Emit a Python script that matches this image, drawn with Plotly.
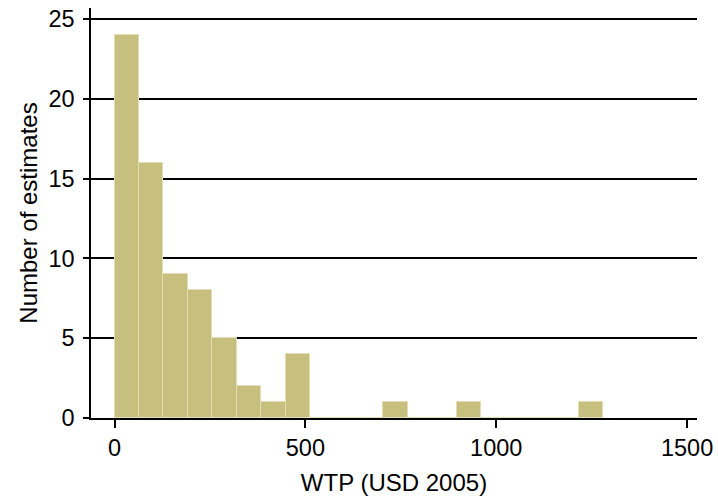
import plotly.graph_objects as go

# Histogram data (bin width 64 USD, bins starting at 0)
bin_width = 64
bin_starts = [i * 64 for i in range(20)]
counts = [24, 16, 9, 8, 5, 2, 1, 4, 0, 0, 0, 1, 0, 0, 1, 0, 0, 0, 0, 1]

x_ticks = [0, 500, 1000, 1500]
y_ticks = [0, 5, 10, 15, 20, 25]

font_family = "Liberation Sans, Arial, Helvetica, sans-serif"

fig = go.Figure()
fig.add_trace(go.Bar(
    x=bin_starts,
    y=counts,
    width=[bin_width] * len(bin_starts),
    offset=0,
    marker=dict(color="#C6BF7E", line=dict(color="#E2DDB4", width=1)),
    showlegend=False,
    hoverinfo="skip",
))

fig.update_layout(
    width=718, height=500,
    margin=dict(l=91, r=21, t=8, b=82, autoexpand=False),
    paper_bgcolor="white", plot_bgcolor="white",
    font=dict(family=font_family, size=23.5, color="black"),
    bargap=0,
)
fig.update_xaxes(
    range=[-61.6, 1526],
    tickvals=x_ticks,
    ticks="outside", ticklen=8, tickwidth=1.5, tickcolor="black",
    showline=True, linecolor="black", linewidth=1.5,
    showgrid=False, zeroline=False,
    title=dict(text="WTP (USD 2005)", font=dict(size=24), standoff=14),
    tickfont=dict(size=23.5),
    automargin=False,
)
fig.update_yaxes(
    range=[0, 25.7],
    tickvals=y_ticks,
    ticks="outside", ticklen=6, tickwidth=1.5, tickcolor="black",
    showline=True, linecolor="black", linewidth=1.5,
    showgrid=True, gridcolor="black", gridwidth=1.5,
    zeroline=False,
    title=dict(text="Number of estimates", font=dict(size=24), standoff=4),
    tickfont=dict(size=23.5),
    ticklabelstandoff=4,
    automargin=False,
)

fig.write_html(
    "out.html",
    config={"displayModeBar": False},
    post_script="document.body.style.margin='0';document.body.style.overflow='hidden';",
)
